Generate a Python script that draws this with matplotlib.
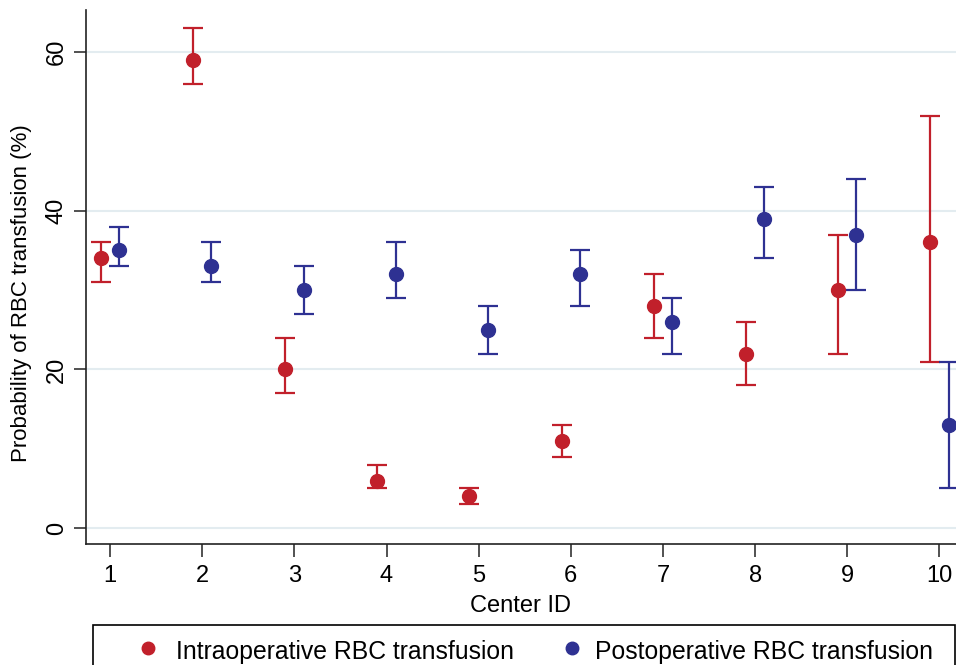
import matplotlib
matplotlib.use("Agg")
import matplotlib.pyplot as plt
import numpy as np
from matplotlib.lines import Line2D
from matplotlib.patches import Rectangle

plt.rcParams['font.family'] = ['Liberation Sans', 'DejaVu Sans']

centers = [1, 2, 3, 4, 5, 6, 7, 8, 9, 10]
intra = [34, 59, 20, 6, 4, 11, 28, 22, 30, 36]
intra_lo = [31, 56, 17, 5, 3, 9, 24, 18, 22, 21]
intra_hi = [36, 63, 24, 8, 5, 13, 32, 26, 37, 52]
post = [35, 33, 30, 32, 25, 32, 26, 39, 37, 13]
post_lo = [33, 31, 27, 29, 22, 28, 22, 34, 30, 5]
post_hi = [38, 36, 33, 36, 28, 35, 29, 43, 44, 21]
yticks = [0, 20, 40, 60]
labels = ['Intraoperative RBC transfusion', 'Postoperative RBC transfusion']

red = '#c1202b'
blue = '#2e3192'

W, H = 956, 665
fig = plt.figure(figsize=(W/100, H/100), dpi=100)
ax = fig.add_axes([86/W, (H-544)/H, (956-86)/W, (544-10)/H])

x = np.array(centers, dtype=float)
ia = np.array(intra); pa = np.array(post)
ax.errorbar(x - 0.1, ia, yerr=[ia - np.array(intra_lo), np.array(intra_hi) - ia],
            fmt='o', color=red, ms=10, elinewidth=1.6, capsize=7, capthick=1.6,
            label=labels[0], zorder=3)
ax.errorbar(x + 0.1, pa, yerr=[pa - np.array(post_lo), np.array(post_hi) - pa],
            fmt='o', color=blue, ms=10, elinewidth=1.6, capsize=7, capthick=1.6,
            label=labels[1], zorder=3)

ax.set_xlim(0.739, 10.18)
ax.set_ylim(-2.0, 65.3)
ax.set_xticks(centers)
ax.set_yticks(yticks)
ax.tick_params(axis='both', labelsize=17, length=9, width=1.2, color='#333333', pad=6)
ax.tick_params(axis='y', pad=4)
for lab in ax.get_yticklabels():
    lab.set_rotation(90)
    lab.set_va('center')
ax.grid(axis='y', color='#e3ecf0', linewidth=1.5, zorder=0)
ax.set_axisbelow(True)
for s in ['top', 'right']:
    ax.spines[s].set_visible(False)
for s in ['left', 'bottom']:
    ax.spines[s].set_linewidth(1.2)
    ax.spines[s].set_color('#222222')
ax.set_xlabel('Center ID', fontsize=17, labelpad=6)
ax.set_ylabel('Probability of RBC transfusion (%)', fontsize=16)
ax.yaxis.set_label_coords(-0.062, 0.47)

# legend box (extends past the bottom edge as in the reference)
fig.patches.append(Rectangle((93/W, -10/H), (955-93)/W, (H-625+10)/H,
                             transform=fig.transFigure, fill=False,
                             edgecolor='black', linewidth=1.2))
for mx, tx, col, lab in [(148, 176, red, labels[0]), (572, 595, blue, labels[1])]:
    fig.add_artist(Line2D([mx/W], [(H-648)/H], marker='o', ls='', color=col, ms=9,
                          transform=fig.transFigure))
    fig.text(tx/W, (H-659)/H, lab, fontsize=17.8, va='baseline', ha='left')

fig.savefig('out.png', dpi=100)
